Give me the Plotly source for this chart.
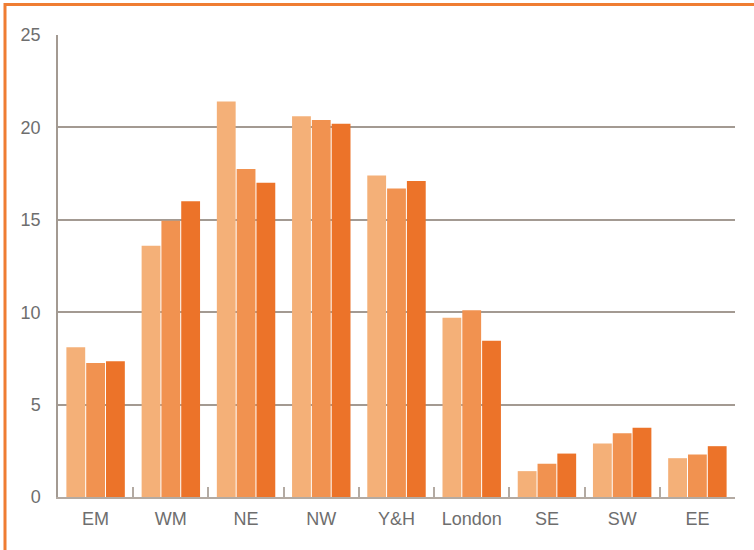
import plotly.graph_objects as go

categories = ["EM", "WM", "NE", "NW", "Y&H", "London", "SE", "SW", "EE"]
series_a = [8.1, 13.6, 21.4, 20.6, 17.4, 9.7, 1.4, 2.9, 2.1]
series_b = [7.25, 14.95, 17.75, 20.4, 16.7, 10.1, 1.8, 3.45, 2.3]
series_c = [7.35, 16.0, 17.0, 20.2, 17.1, 8.45, 2.35, 3.75, 2.75]
colors = ["#F4B078", "#F19250", "#EC7329"]
y_ticks = [0, 5, 10, 15, 20, 25]

fig = go.Figure()
for vals, col in zip([series_a, series_b, series_c], colors):
    fig.add_trace(go.Bar(x=categories, y=vals, marker=dict(color=col, line=dict(width=0))))

W, H = 754, 550
L, R, T, B = 58, 19, 35, 53
pw, ph = W - L - R, H - T - B

def px_x(x):
    return (x - L) / pw

def px_y(y):
    return (H - B - y) / ph

border = "#EF7D32"
fig.update_layout(
    width=W, height=H,
    margin=dict(l=L, r=R, t=T, b=B, autoexpand=False),
    paper_bgcolor="white", plot_bgcolor="white",
    barmode="group", bargap=0.21, bargroupgap=0.05,
    showlegend=False,
    font=dict(family="Liberation Sans, Arial, sans-serif", size=18, color="#6E6E6E"),
    xaxis=dict(
        showline=True, linecolor="#B3AAA2", linewidth=2,
        ticks="inside", tickson="boundaries", ticklen=10, tickcolor="#B3AAA2", tickwidth=2,
        showgrid=False, fixedrange=True, automargin=False, ticklabelstandoff=4,
    ),
    yaxis=dict(
        range=[0, 25], tickvals=y_ticks, automargin=False,
        showgrid=True, gridcolor="#A39A92", gridwidth=1.5,
        showline=True, linecolor="#A39A92", linewidth=1.5,
        zeroline=False, ticks="", ticklabelstandoff=12,
    ),
    shapes=[
        dict(type="line", xref="paper", yref="paper",
             x0=px_x(5), x1=px_x(5), y0=px_y(H + 5), y1=px_y(3),
             line=dict(color=border, width=3)),
        dict(type="line", xref="paper", yref="paper",
             x0=px_x(4), x1=px_x(W + 5), y0=px_y(4.5), y1=px_y(4.5),
             line=dict(color=border, width=3)),
    ],
)

fig.write_html("out.html", config={"displayModeBar": False},
               post_script="document.body.style.margin='0px';document.body.style.padding='0px';")
